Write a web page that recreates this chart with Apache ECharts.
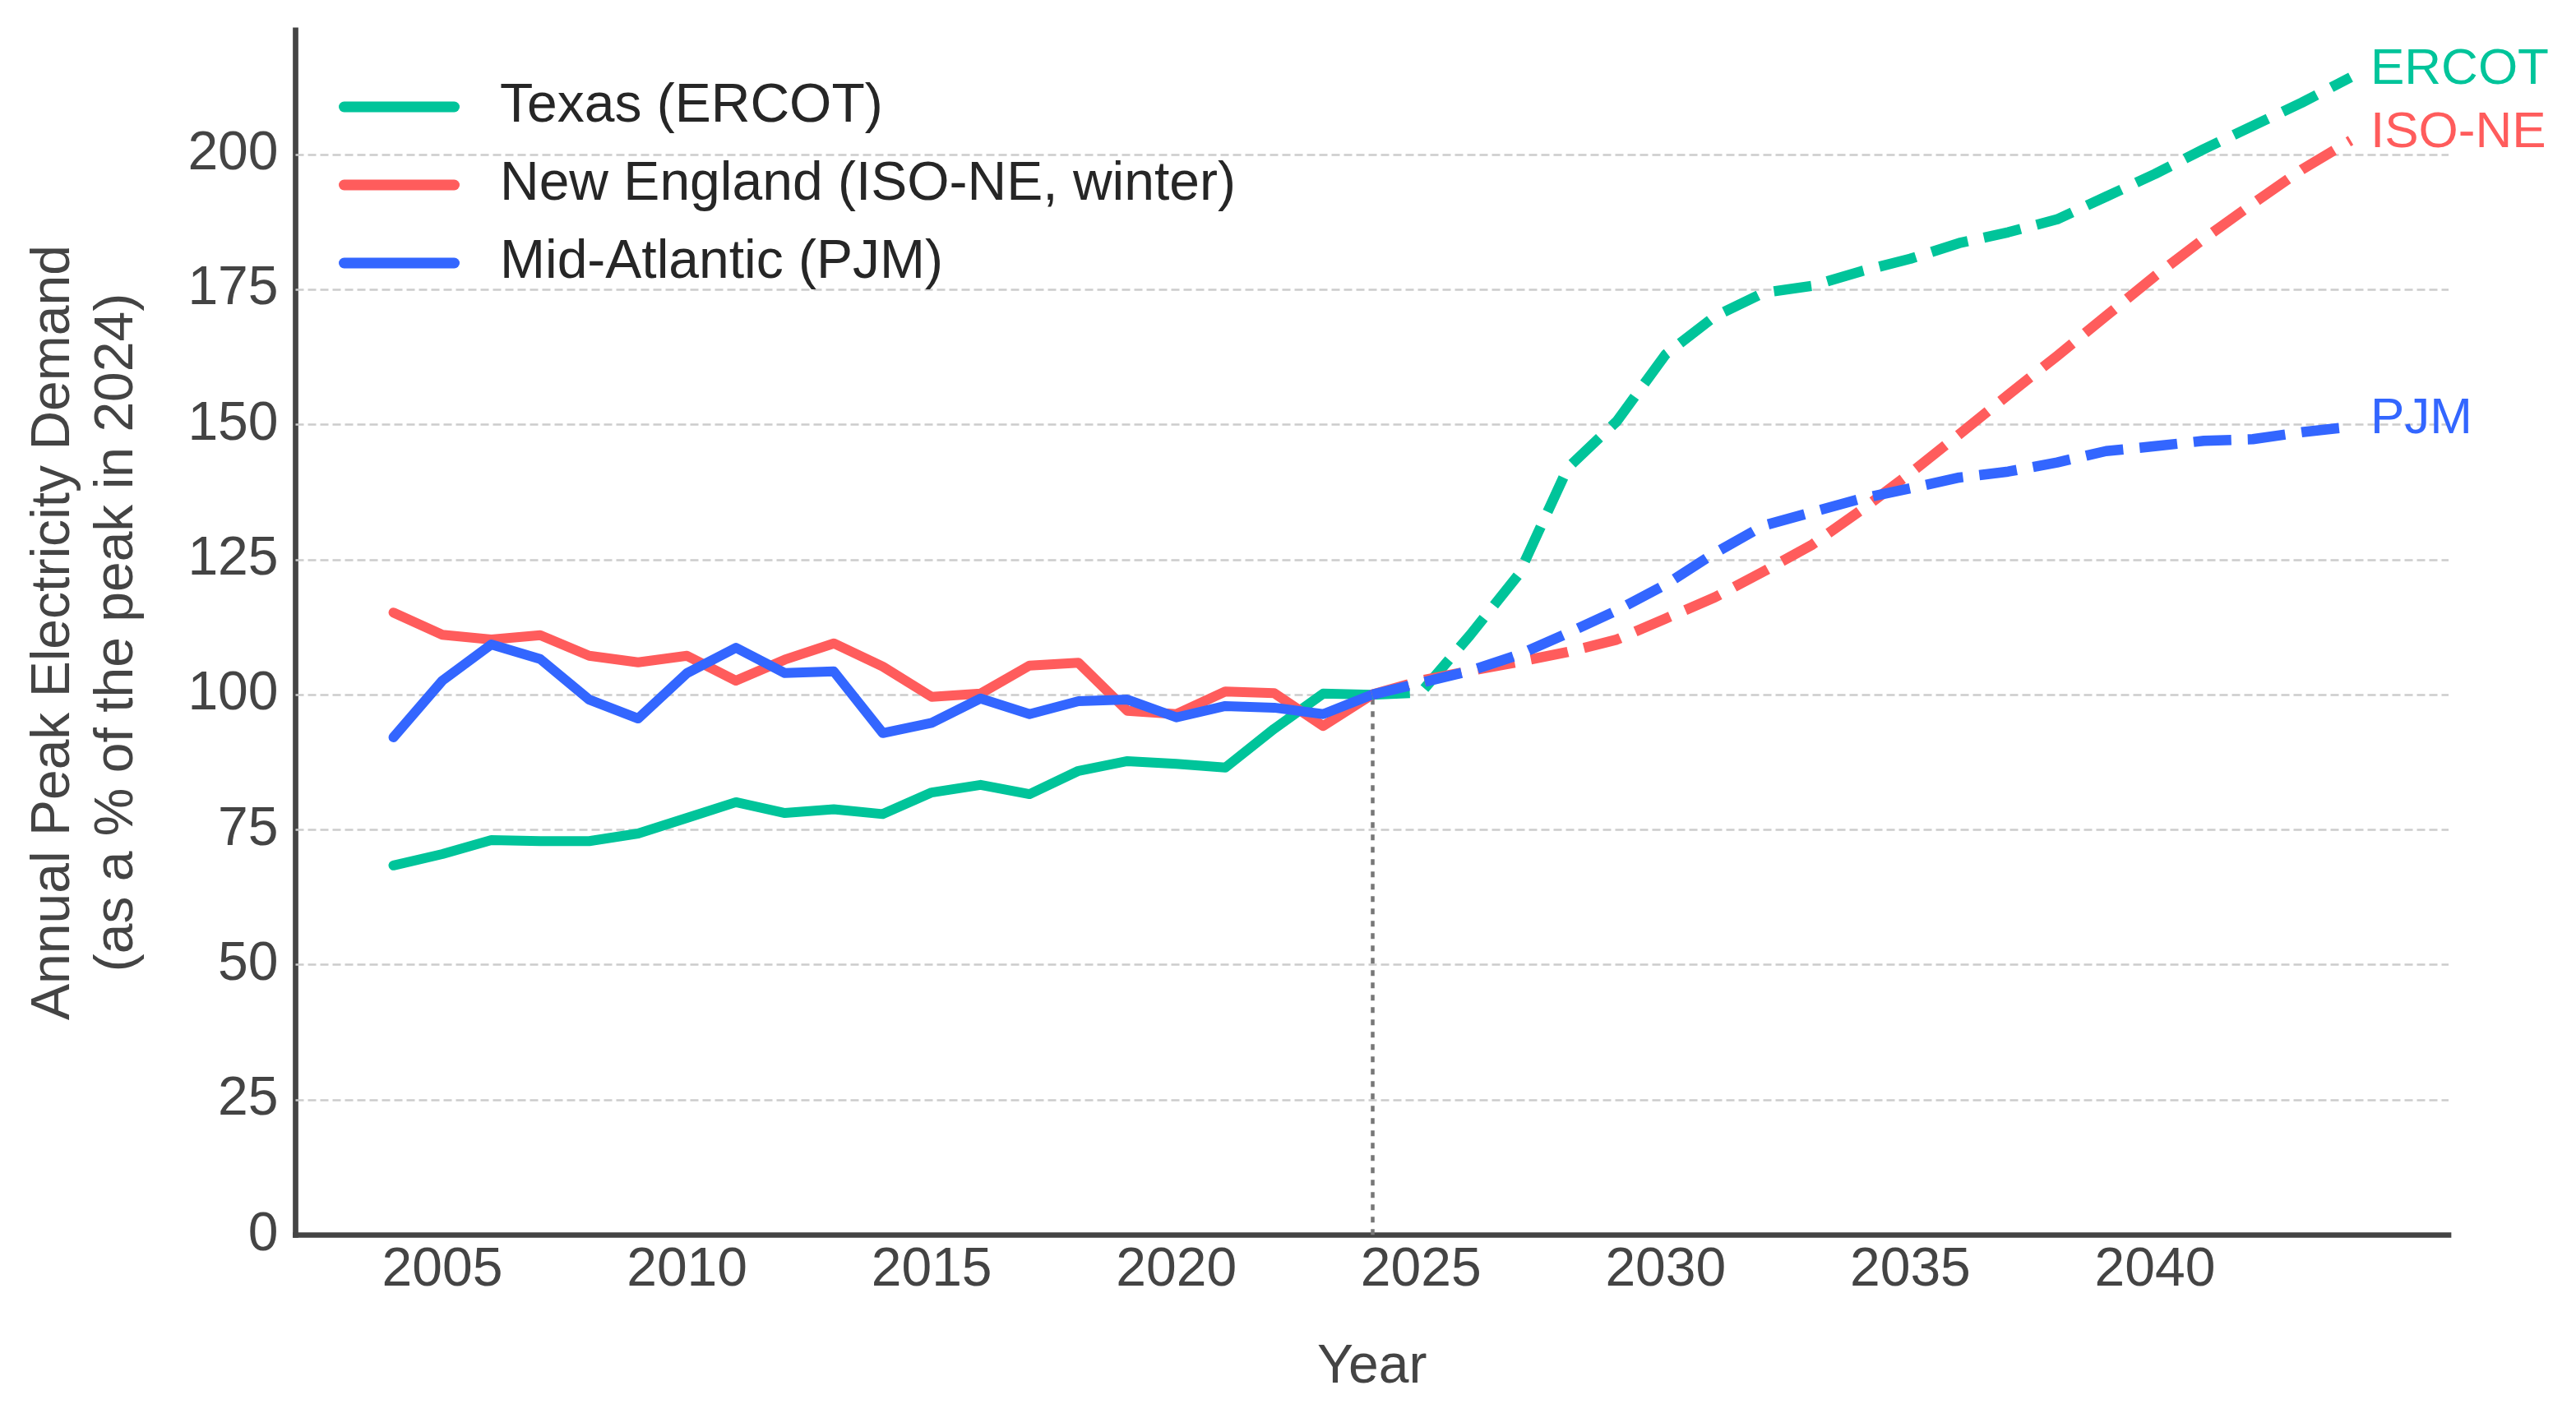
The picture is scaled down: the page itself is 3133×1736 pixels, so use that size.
<!DOCTYPE html>
<html>
<head>
<meta charset="utf-8">
<title>Annual Peak Electricity Demand</title>
<script src="https://cdn.jsdelivr.net/npm/echarts@6/dist/echarts.min.js"></script>
<style>
    html, body { margin: 0; padding: 0; background: #ffffff; }
    #main_line { width: 3133px; height: 1736px; }
</style>
</head>
<body>
<div id="main_line"></div>
<script>
// 历史年份 / 预测年份
var histYears = [2004, 2005, 2006, 2007, 2008, 2009, 2010, 2011, 2012, 2013, 2014,
    2015, 2016, 2017, 2018, 2019, 2020, 2021, 2022, 2023, 2024];
var fcstYears = [2024, 2025, 2026, 2027, 2028, 2029, 2030, 2031, 2032, 2033, 2034,
    2035, 2036, 2037, 2038, 2039, 2040, 2041, 2042, 2043, 2044];

// Texas (ERCOT)
var texasHist = [68.4, 70.5, 73.1, 72.9, 72.9, 74.3, 77.2, 80.1, 78.1, 78.8, 77.9,
    81.9, 83.3, 81.6, 85.9, 87.7, 87.2, 86.5, 93.7, 100.2, 100.0];
var texasFcst = [100.0, 100.4, 111.0, 122.3, 142.0, 150.6, 163.0, 170.0, 174.4, 175.7, 178.4,
    180.7, 183.6, 185.6, 188.0, 192.2, 196.4, 201.0, 205.3, 209.6, 214.3];

// New England (ISO-NE, winter)
var neHist = [115.2, 111.1, 110.2, 111.0, 107.2, 106.0, 107.2, 102.6, 106.5, 109.5, 105.2,
    99.6, 100.2, 105.4, 105.9, 97.0, 96.4, 100.6, 100.3, 94.2, 100.0];
var neFcst = [100.0, 102.6, 104.4, 106.1, 107.9, 110.2, 114.1, 118.0, 122.8, 127.8, 134.2,
    141.0, 148.2, 155.5, 162.7, 170.1, 177.5, 184.4, 190.9, 197.2, 202.6];

// Mid-Atlantic (PJM)
var pjmHist = [92.1, 102.6, 109.3, 106.6, 99.1, 95.6, 104.0, 108.7, 104.0, 104.3, 92.9,
    94.8, 99.3, 96.4, 98.8, 99.1, 95.8, 97.9, 97.6, 96.4, 100.0];
var pjmFcst = [100.0, 102.2, 104.4, 107.4, 111.4, 115.6, 120.4, 126.2, 131.3, 133.8, 136.3,
    138.2, 140.2, 141.3, 143.0, 145.1, 146.0, 147.0, 147.3, 148.6, 149.6];

// y轴刻度
var yTicks = [0, 25, 50, 75, 100, 125, 150, 175, 200];
var xTickLabels = [2005, 2010, 2015, 2020, 2025, 2030, 2035, 2040];

var seriesNames = ['Texas (ERCOT)', 'New England (ISO-NE, winter)', 'Mid-Atlantic (PJM)'];
var endNames = ['ERCOT', 'ISO-NE', 'PJM'];
var colors = ['#00c49a', '#ff5c5c', '#3366ff'];

var FONT = "'Liberation Sans', Arial, Helvetica, sans-serif";

function pairs(xs, ys) {
    var out = [];
    for (var i = 0; i < xs.length; i++) {
        out.push([xs[i], ys[i]]);
    }
    return out;
}

function histSeries(idx, values) {
    return {
        name: seriesNames[idx],
        type: 'line',
        data: pairs(histYears, values),
        symbol: 'none',
        showSymbol: false,
        silent: true,
        z: 3,
        color: colors[idx],
        lineStyle: {color: colors[idx], width: 12, cap: 'round', join: 'round'}
    };
}

function fcstSeries(idx, values) {
    return {
        name: endNames[idx] + ' forecast',
        type: 'line',
        data: pairs(fcstYears, values),
        symbol: 'none',
        showSymbol: false,
        silent: true,
        z: 3,
        color: colors[idx],
        lineStyle: {color: colors[idx], width: 12.5, type: [46, 20], cap: 'butt', join: 'round'},
        endLabel: {
            show: true,
            formatter: endNames[idx],
            color: colors[idx],
            fontFamily: FONT,
            fontSize: 62,
            distance: 24,
            offset: [0, -9]
        }
    };
}

function chartLineShow() {
    var myChartLine = echarts.init(document.getElementById('main_line'), null, {renderer: 'canvas'});

    var texas = histSeries(0, texasHist);
    // 横向网格虚线
    var gridData = [];
    for (var i = 1; i < yTicks.length; i++) {
        gridData.push({yAxis: yTicks[i]});
    }
    texas.markLine = {
        silent: true,
        z: 1,
        symbol: ['none', 'none'],
        label: {show: false},
        lineStyle: {color: '#cccccc', type: [10, 5], width: 2.5},
        data: gridData
    };

    var ne = histSeries(1, neHist);
    // 2024 竖向点线
    ne.markLine = {
        silent: true,
        z: 1,
        symbol: ['none', 'none'],
        label: {show: false},
        lineStyle: {color: '#777777', type: [7, 8], width: 4.5},
        data: [[{coord: [2024, 0]}, {coord: [2024, 100]}]]
    };

    var option = {
        animation: false,
        backgroundColor: '#ffffff',
        textStyle: {fontFamily: FONT},
        grid: {
            left: 359.5,
            top: 36.8,
            width: 2618.5,
            height: 1465.5,
            outerBoundsMode: 'none'
        },
        legend: {
            data: seriesNames,
            orient: 'vertical',
            left: 412,
            top: 97,
            padding: 0,
            itemGap: 29,
            itemWidth: 147,
            itemHeight: 13,
            icon: 'path://M6.5,0 L140.5,0 A6.5,6.5 0 0 1 140.5,13 L6.5,13 A6.5,6.5 0 0 1 6.5,0 Z',
            itemStyle: {borderWidth: 0},
            selectedMode: false,
            textStyle: {
                fontFamily: FONT,
                fontSize: 66,
                lineHeight: 66,
                color: '#262626',
                padding: [0, 0, 0, 44]
            }
        },
        xAxis: {
            type: 'value',
            min: 2002,
            max: 2046,
            interval: 1,
            name: 'Year',
            nameLocation: 'middle',
            nameGap: 128,
            nameTextStyle: {fontFamily: FONT, fontSize: 66, color: '#444444'},
            axisLine: {show: true, lineStyle: {color: '#444444', width: 6.7, cap: 'square'}},
            axisTick: {show: false},
            splitLine: {show: false},
            axisLabel: {
                margin: 10,
                fontFamily: FONT,
                fontSize: 66,
                color: '#444444',
                formatter: function (v) {
                    return xTickLabels.indexOf(v) >= 0 ? String(v) : '';
                }
            }
        },
        yAxis: {
            type: 'value',
            min: 0,
            max: 223,
            interval: 25,
            name: 'Annual Peak Electricity Demand\n(as a % of the peak in 2024)',
            nameLocation: 'middle',
            nameRotate: 90,
            nameGap: 178,
            nameTextStyle: {fontFamily: FONT, fontSize: 66, lineHeight: 77, color: '#444444', align: 'center'},
            axisLine: {show: true, lineStyle: {color: '#444444', width: 6.7, cap: 'square'}},
            axisTick: {show: false},
            splitLine: {show: false},
            axisLabel: {
                margin: 21,
                fontFamily: FONT,
                fontSize: 66,
                color: '#444444',
                formatter: function (v) {
                    return yTicks.indexOf(v) >= 0 ? String(v) : '';
                }
            }
        },
        series: [
            texas,
            ne,
            histSeries(2, pjmHist),
            fcstSeries(0, texasFcst),
            fcstSeries(1, neFcst),
            fcstSeries(2, pjmFcst)
        ]
    };
    // 使用刚指定的配置项和数据显示图表。
    myChartLine.setOption(option);
}

chartLineShow();
</script>
</body>
</html>
